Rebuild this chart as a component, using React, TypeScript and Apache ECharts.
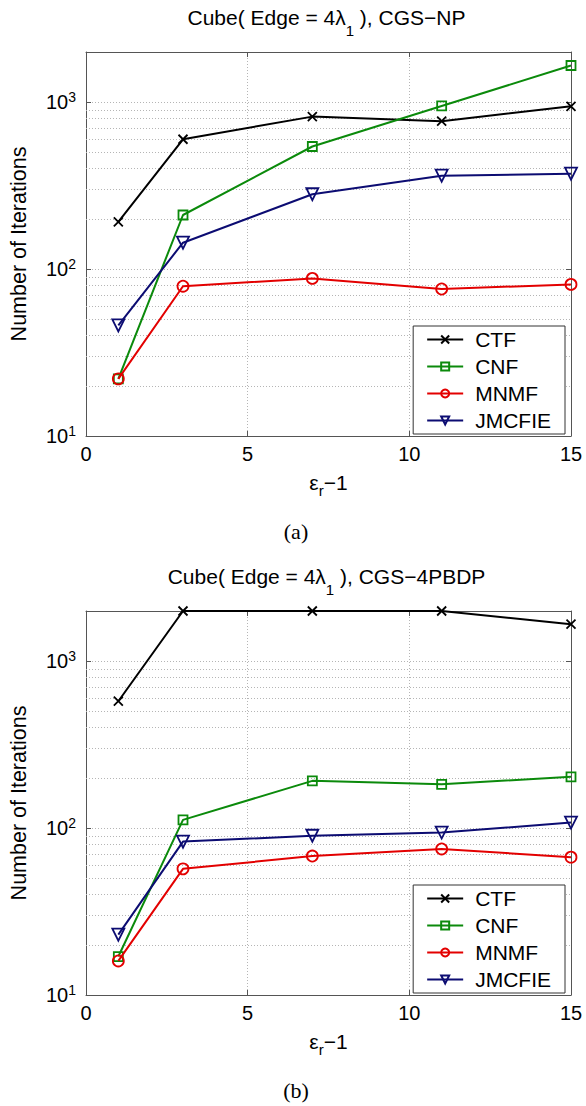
import React, { useEffect, useRef } from "react";
import * as echarts from "echarts";

// ---------- data ----------
const X_VALUES = [1, 3, 7, 11, 15];
const SERIES_NAMES = ["CTF", "CNF", "MNMF", "JMCFIE"];

// (a) CGS-NP
const A_CTF = [192, 600, 820, 770, 945];
const A_CNF = [22, 211, 543, 950, 1660];
const A_MNMF = [22, 79, 88, 76, 81];
const A_JMCFIE = [46, 144, 281, 363, 373];

// (b) CGS-4PBDP
const B_CTF = [576, 2000, 2000, 2000, 1667];
const B_CNF = [17, 112, 192, 183, 203];
const B_MNMF = [16, 57, 68, 75, 67];
const B_JMCFIE = [23, 83, 90, 94, 108];

const X_MIN = 0;
const X_MAX = 15;
const X_INTERVAL = 5;
const Y_MIN = 10;
const Y_MAX = 2000;
const MINOR_GRID_Y = [20, 30, 40, 50, 60, 70, 80, 90, 200, 300, 400, 500, 600, 700, 800, 900];

const TITLES = ["CGS\u2212NP", "CGS\u22124PBDP"];
const CAPTIONS = ["(a)", "(b)"];

// ---------- styles ----------
const FONT = "Liberation Sans";
const COLORS = ["#000000", "#0b8a0b", "#e30000", "#0c0c72"];
const SYMBOLS = [
  "path://M0,0L10,10M10,0L0,10",
  "rect",
  "circle",
  "path://M0,0L10,0L5,8.66Z",
];
const SYMBOL_SIZES = [9, 9, 11, 12];
const AXIS_COLOR = "#555";
const GRID_COLOR = "#b5b5b5";

const GRIDS = [
  { left: 82, top: 52, width: 489, height: 384 },
  { left: 82, top: 611, width: 489, height: 384 },
];

function buildOption() {
  const dataSets = [
    [A_CTF, A_CNF, A_MNMF, A_JMCFIE],
    [B_CTF, B_CNF, B_MNMF, B_JMCFIE],
  ];

  const xAxis: any[] = [];
  const yAxis: any[] = [];
  const series: any[] = [];
  const title: any[] = [];
  const legend: any[] = [];
  const graphic: any[] = [];

  GRIDS.forEach((g, gi) => {
    xAxis.push({
      type: "value",
      gridIndex: gi,
      min: X_MIN,
      max: X_MAX,
      interval: X_INTERVAL,
      position: "bottom",
      axisLine: { show: true, onZero: false, lineStyle: { color: AXIS_COLOR, width: 1 } },
      axisTick: { show: true, inside: true, length: 5, lineStyle: { color: AXIS_COLOR } },
      axisLabel: { fontSize: 20, color: "#000", fontFamily: FONT, margin: 8 },
      splitLine: { show: true, lineStyle: { type: [1, 2], color: GRID_COLOR, width: 1 } },
      name: "{n|\u03b5}{s|r}{n|\u22121}",
      nameLocation: "middle",
      nameGap: 36,
      nameTextStyle: {
        rich: {
          n: { fontSize: 21, lineHeight: 21, fontFamily: FONT, color: "#000" },
          s: { fontSize: 15, lineHeight: 15, fontFamily: FONT, color: "#000", padding: [16, 0, 0, 0] },
        },
      },
    });
    xAxis.push({
      type: "value",
      gridIndex: gi,
      min: X_MIN,
      max: X_MAX,
      interval: X_INTERVAL,
      position: "top",
      axisLine: { show: true, onZero: false, lineStyle: { color: AXIS_COLOR, width: 1 } },
      axisTick: { show: true, inside: true, length: 5, lineStyle: { color: AXIS_COLOR } },
      axisLabel: { show: false },
      splitLine: { show: false },
    });
    yAxis.push({
      type: "log",
      logBase: 10,
      gridIndex: gi,
      min: Y_MIN,
      max: Y_MAX,
      position: "left",
      axisLine: { show: true, onZero: false, lineStyle: { color: AXIS_COLOR, width: 1 } },
      axisTick: { show: true, inside: true, length: 5, lineStyle: { color: AXIS_COLOR } },
      axisLabel: {
        fontSize: 20,
        color: "#000",
        fontFamily: FONT,
        margin: 10,
        formatter: (v: number) => {
          const l = Math.log10(v);
          const r = Math.round(l);
          return Math.abs(l - r) < 1e-6 ? `10{sup|${r}}` : "";
        },
        rich: {
          sup: { fontSize: 14, fontFamily: FONT, color: "#000", padding: [0, 0, 10, 0] },
        },
      },
      splitLine: { show: true, lineStyle: { type: [1, 2], color: GRID_COLOR, width: 1 } },
      name: "Number of Iterations",
      nameLocation: "middle",
      nameGap: 56,
      nameTextStyle: { fontSize: 21.5, color: "#000", fontFamily: FONT },
    });
    yAxis.push({
      type: "log",
      logBase: 10,
      gridIndex: gi,
      min: Y_MIN,
      max: Y_MAX,
      position: "right",
      axisLine: { show: true, onZero: false, lineStyle: { color: AXIS_COLOR, width: 1 } },
      axisTick: { show: true, inside: true, length: 5, lineStyle: { color: AXIS_COLOR } },
      axisLabel: { show: false },
      splitLine: { show: false },
    });

    const sets = dataSets[gi];
    SERIES_NAMES.forEach((name, si) => {
      const s: any = {
        type: "line",
        name,
        xAxisIndex: gi * 2,
        yAxisIndex: gi * 2,
        data: X_VALUES.map((x, i) => [x, sets[si][i]]),
        symbol: SYMBOLS[si],
        symbolSize: SYMBOL_SIZES[si],
        showAllSymbol: true,
        clip: false,
        z: 3 + si,
        lineStyle: { color: COLORS[si], width: 2 },
        itemStyle: { color: "rgba(255,255,255,0)", borderColor: COLORS[si], borderWidth: 1.8 },
        emphasis: { disabled: true },
      };
      if (si === 0) {
        s.markLine = {
          silent: true,
          symbol: "none",
          animation: false,
          label: { show: false },
          lineStyle: { type: [1, 2], color: GRID_COLOR, width: 1 },
          emphasis: { disabled: true },
          data: MINOR_GRID_Y.map((v) => ({ yAxis: v })),
          z: 1,
        };
      }
      series.push(s);
    });

    title.push({
      text: `{n|Cube( Edge = 4\u03bb}{s|1}{n| ), ${TITLES[gi]}}`,
      left: g.left + g.width / 2,
      top: g.top - 45,
      textAlign: "center",
      padding: 0,
      textStyle: {
        fontWeight: "normal",
        rich: {
          n: {
            fontSize: 21,
            lineHeight: 21,
            fontWeight: "normal",
            fontFamily: FONT,
            color: "#000",
            verticalAlign: "top",
            padding: [0, 0, 10, 0],
          },
          s: {
            fontSize: 15,
            lineHeight: 15,
            fontWeight: "normal",
            fontFamily: FONT,
            color: "#000",
            verticalAlign: "top",
            padding: [16, 0, 0, 0],
          },
        },
      },
    });

    legend.push({
      data: SERIES_NAMES,
      orient: "vertical",
      right: 21,
      top: g.top + g.height - 110,
      itemWidth: 36,
      itemHeight: 10,
      itemGap: 6,
      padding: [3, 14, 3, 13],
      backgroundColor: "#fff",
      borderColor: "#333",
      borderWidth: 1,
      selectedMode: false,
      textStyle: { fontSize: 21, lineHeight: 20, fontFamily: FONT, color: "#000", padding: [0, 0, 0, 7] },
    });

    graphic.push({
      type: "text",
      x: 296,
      y: g.top + g.height + 95,
      style: {
        text: CAPTIONS[gi],
        fontSize: 22,
        fontFamily: "Liberation Serif",
        fill: "#000",
        align: "center",
        verticalAlign: "middle",
        textAlign: "center",
        textVerticalAlign: "middle",
      },
    });
  });

  return {
    animation: false,
    backgroundColor: "#fff",
    grid: GRIDS.map((g) => ({ ...g, show: false })),
    title,
    legend,
    xAxis,
    yAxis,
    series,
    graphic,
  };
}

export default function App() {
  const ref = useRef<HTMLDivElement>(null);
  useEffect(() => {
    if (!ref.current) return;
    const chart = echarts.init(ref.current, null, { renderer: "svg" });
    chart.setOption(buildOption() as any);
    return () => chart.dispose();
  }, []);
  return (
    <div
      ref={ref}
      style={{ position: "absolute", left: 0, top: 0, width: 586, height: 1106, background: "#fff" }}
    />
  );
}
